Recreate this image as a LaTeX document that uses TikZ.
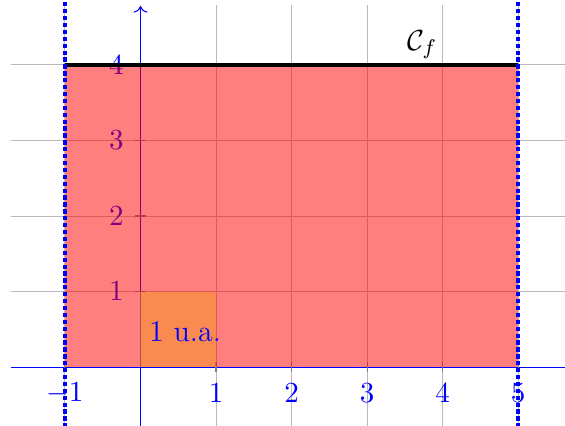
\documentclass[tikz,border=0pt]{standalone}
\usetikzlibrary{positioning,arrows.meta}
\definecolor{OrangeUA}{RGB}{245,152,35}
\tikzset{
  quadrillage/.style={draw=gray!55,line width=0.35pt},
  axe/.style={draw=blue,thin},
  graduation/.style={draw=gray,thin},
  borne/.style={draw=blue,ultra thick,densely dotted},
  courbe/.style={draw=black,ultra thick},
  etiquette/.style={text=blue,font=\fontsize{11.3}{13}\selectfont,inner sep=0pt},
  aire/.style={fill=red,fill opacity=0.5},
  unite/.style={fill=OrangeUA,fill opacity=0.5}
}
\begin{document}
\begin{tikzpicture}
  \useasboundingbox (-1.86,-0.77) rectangle (5.62,4.86);
  \draw[quadrillage] (-1.72,-0.8) grid (5.7,4.8);
  \draw[axe] (-1.72,0) -- (5.7,0);
  \draw[axe,->] (0,-0.8) -- (0,4.78);
  % graduations et valeurs
  \foreach \x in {-1,1,2,3,4,5} {
    \draw[graduation] (\x,0.07) -- (\x,-0.07);
    \node[etiquette] (abs\x) at (\x,-0.345) {$\x$};
  }
  \foreach \y in {1,2,3,4} {
    \draw[graduation] (-0.07,\y) -- (0.07,\y);
    \node[etiquette] (ord\y) at (-0.32,\y) {$\y$};
  }
  % aire sous la courbe
  \fill[aire] (-1,0) rectangle (5,4);
  \fill[unite] (0,0) rectangle (1,1);
  \node[etiquette] (ua) at (0.59,0.47) {1 u.a.};
  \coordinate (A) at (-1,4);
  \coordinate (B) at (5,4);
  \draw[courbe] (A) -- (B);
  \node[font=\fontsize{11.3}{13}\selectfont,inner sep=0pt] (cf) at (3.73,4.27) {$\mathcal{C}_f$};
  \draw[borne] (-1,-0.8) -- (-1,4.9);
  \draw[borne] (5,-0.8) -- (5,4.9);
\end{tikzpicture}
\end{document}
